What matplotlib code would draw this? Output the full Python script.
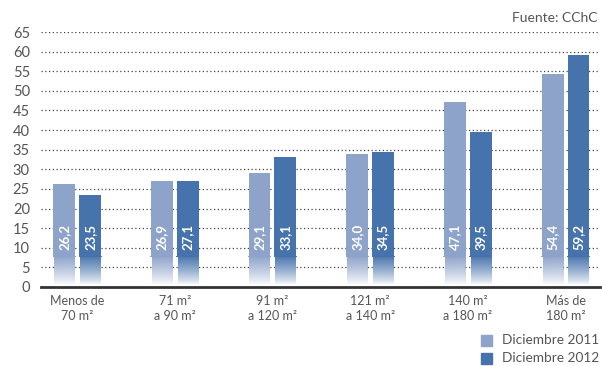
import matplotlib.pyplot as plt
import numpy as np
from matplotlib.patches import Rectangle

categorias = ['Menos de\n70 m²', '71 m²\na 90 m²', '91 m²\na 120 m²',
              '121 m²\na 140 m²', '140 m²\na 180 m²', 'Más de\n180 m²']
dic_2011 = [26.2, 26.9, 29.1, 34.0, 47.1, 54.4]
dic_2012 = [23.5, 27.1, 33.1, 34.5, 39.5, 59.2]
series = ['Diciembre 2011', 'Diciembre 2012']
colores = ['#8da3ca', '#4673ac']

plt.rcParams['font.family'] = ['Lato', 'DejaVu Sans']

fig = plt.figure(figsize=(6.02, 3.66), dpi=100)
ax = fig.add_axes([41 / 602, 79 / 366, 559 / 602, 255 / 366])

x = np.arange(len(categorias))
w = 0.225
off = 0.133
corte = 7.8

# degradado blanco en la base de cada barra
alfa = np.linspace(1, 0, 64).reshape(-1, 1)

for valores, color, dx in zip([dic_2011, dic_2012], colores, [-off, off]):
    pos = x + dx
    ax.bar(pos, np.array(valores) - corte, bottom=corte, width=w,
           color=color, zorder=3, linewidth=0)
    # pequeño borde en el corte
    ax.bar(pos, 0.35, bottom=corte - 0.2, width=w + 0.012, color=color,
           zorder=3, linewidth=0)
    ax.bar(pos, corte, width=w - 0.02, color='white', zorder=2.5, linewidth=0)
    rgb = np.array(plt.matplotlib.colors.to_rgb(color))
    img = np.ones((64, 1, 4))
    img[:, :, :3] = rgb
    img[:, :, 3] = alfa ** 0.8
    for p in pos:
        ax.imshow(img, extent=(p - (w - 0.02) / 2, p + (w - 0.02) / 2, 0.4, corte),
                  aspect='auto', origin='upper', zorder=2.6, interpolation='bilinear')
    for p, v in zip(pos, valores):
        ax.text(p, 12.8, f'{v:.1f}'.replace('.', ','), rotation=90, ha='center',
                va='center', color='white', fontsize=9.5, fontweight='bold', zorder=4)

ax.set_xlim(-0.37, 5.353)
ax.set_ylim(0, 65)
ax.set_yticks(np.arange(0, 66, 5))
ax.set_xticks(x)
ax.set_xticklabels(categorias, fontsize=9, color='#555555', linespacing=1.3)
ax.tick_params(axis='y', length=0, pad=8, labelsize=10.5, labelcolor='#555555')
ax.tick_params(axis='x', length=0, pad=6)
ax.yaxis.grid(True, linestyle=(0, (1, 2)), color='#444444', linewidth=0.9, zorder=1)
ax.set_axisbelow(True)
for s in ['top', 'right', 'left']:
    ax.spines[s].set_visible(False)
ax.spines['bottom'].set_color('#333333')
ax.spines['bottom'].set_linewidth(2)
ax.spines['bottom'].set_zorder(5)

fig.text(598 / 602, 1 - 18 / 366, 'Fuente: CChC', ha='right', va='center',
         fontsize=10, color='#555555')

for i, (nombre, color) in enumerate(zip(series, colores)):
    yc = 1 - (340 + 18 * i) / 366
    fig.patches.append(Rectangle((481 / 602, yc - 5.5 / 366), 11 / 602, 11 / 366,
                                 transform=fig.transFigure, color=color))
    fig.text(599 / 602, yc, nombre, ha='right', va='center', fontsize=9.8,
             color='#555555')

fig.savefig('out.png', dpi=100)
